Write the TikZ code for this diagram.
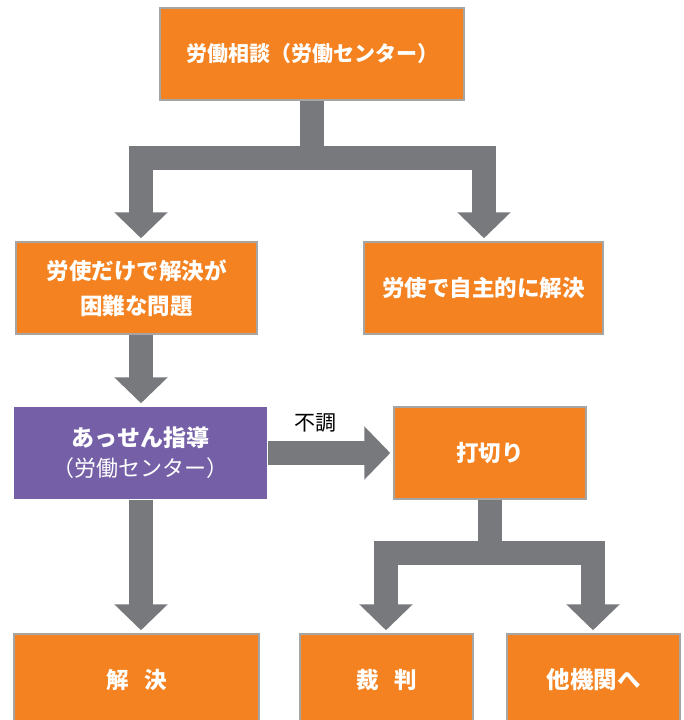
\documentclass[tikz,border=0pt]{standalone}
\usepackage{fontspec}
\setmainfont{Noto Sans CJK JP}
\usetikzlibrary{arrows.meta,calc}
\definecolor{orng}{HTML}{F58220}
\definecolor{purp}{HTML}{7560A8}
\definecolor{arrowgray}{HTML}{78797C}
\definecolor{boxline}{HTML}{A5A5A5}
\begin{document}
\begin{tikzpicture}[x=1pt,y=-1pt,
  box/.style={draw=boxline, line width=1.5pt, fill=orng, text=white,
    font=\bfseries\fontsize{22.5}{35}\selectfont, align=center, inner sep=0pt,
    minimum height=92pt},
  flow/.style={draw=arrowgray, line width=24pt, line join=miter,
    -{Triangle[width=52pt,length=26pt]}, shorten >=3pt},
  lbl/.style={font=\fontsize{21}{24}\selectfont, text=black, inner sep=0pt}]
\useasboundingbox (0,0) rectangle (684,720);
\clip (0,0) rectangle (684,720);
% columns
\coordinate (cA) at (141,0);
\coordinate (cC) at (386,0);
\coordinate (cD) at (593,0);
\coordinate (cB) at (484,0);
% boxes
\node[box, minimum width=304pt, font=\bfseries\fontsize{21}{35}\selectfont] (top) at (312,54) {労働相談（労働センター）};
\node[box, minimum width=241pt] (left) at (136.5,288) {労使だけで解決が\\困難な問題};
\node[box, minimum width=239pt] (right) at (483.5,288) {労使で自主的に解決};
\node[box, fill=purp, draw=none, minimum width=253pt, font=\bfseries\fontsize{23}{33}\selectfont] (med) at (140.5,453)
  {あっせん指導\\[-3pt]{\mdseries\fontsize{22}{30}\selectfont （労働センター）}};
\node[box, minimum width=192pt] (cut) at (490,453) {打切り};
\node[box, minimum width=245pt] (kai) at (136.5,680) {解\hspace{0.7em}決};
\node[box, minimum width=173pt] (sai) at (386.5,680) {裁\hspace{0.7em}判};
\node[box, minimum width=173pt, font=\bfseries\fontsize{23.5}{35}\selectfont] (oth) at (593.5,680) {他機関へ};
% junctions
\coordinate (j1) at ($(top.south)+(0,57)$);
\coordinate (j2) at ($(cut.south)+(0,53.5)$);
% connectors
\draw[flow] (top.south) -- (j1) -| (left.north -| cA);
\draw[flow] (top.south) -- (j1) -| (right.north -| cB);
\draw[flow] (left.south -| cA) -- (med.north -| cA);
\draw[flow] (med.east) -- (cut.west);
\node[lbl] (fucho) at (315,423) {不調};
\draw[flow] (med.south -| cA) -- (kai.north -| cA);
\draw[flow] (cut.south) -- (j2) -| (sai.north -| cC);
\draw[flow] (cut.south) -- (j2) -| (oth.north -| cD);
\end{tikzpicture}
\end{document}
